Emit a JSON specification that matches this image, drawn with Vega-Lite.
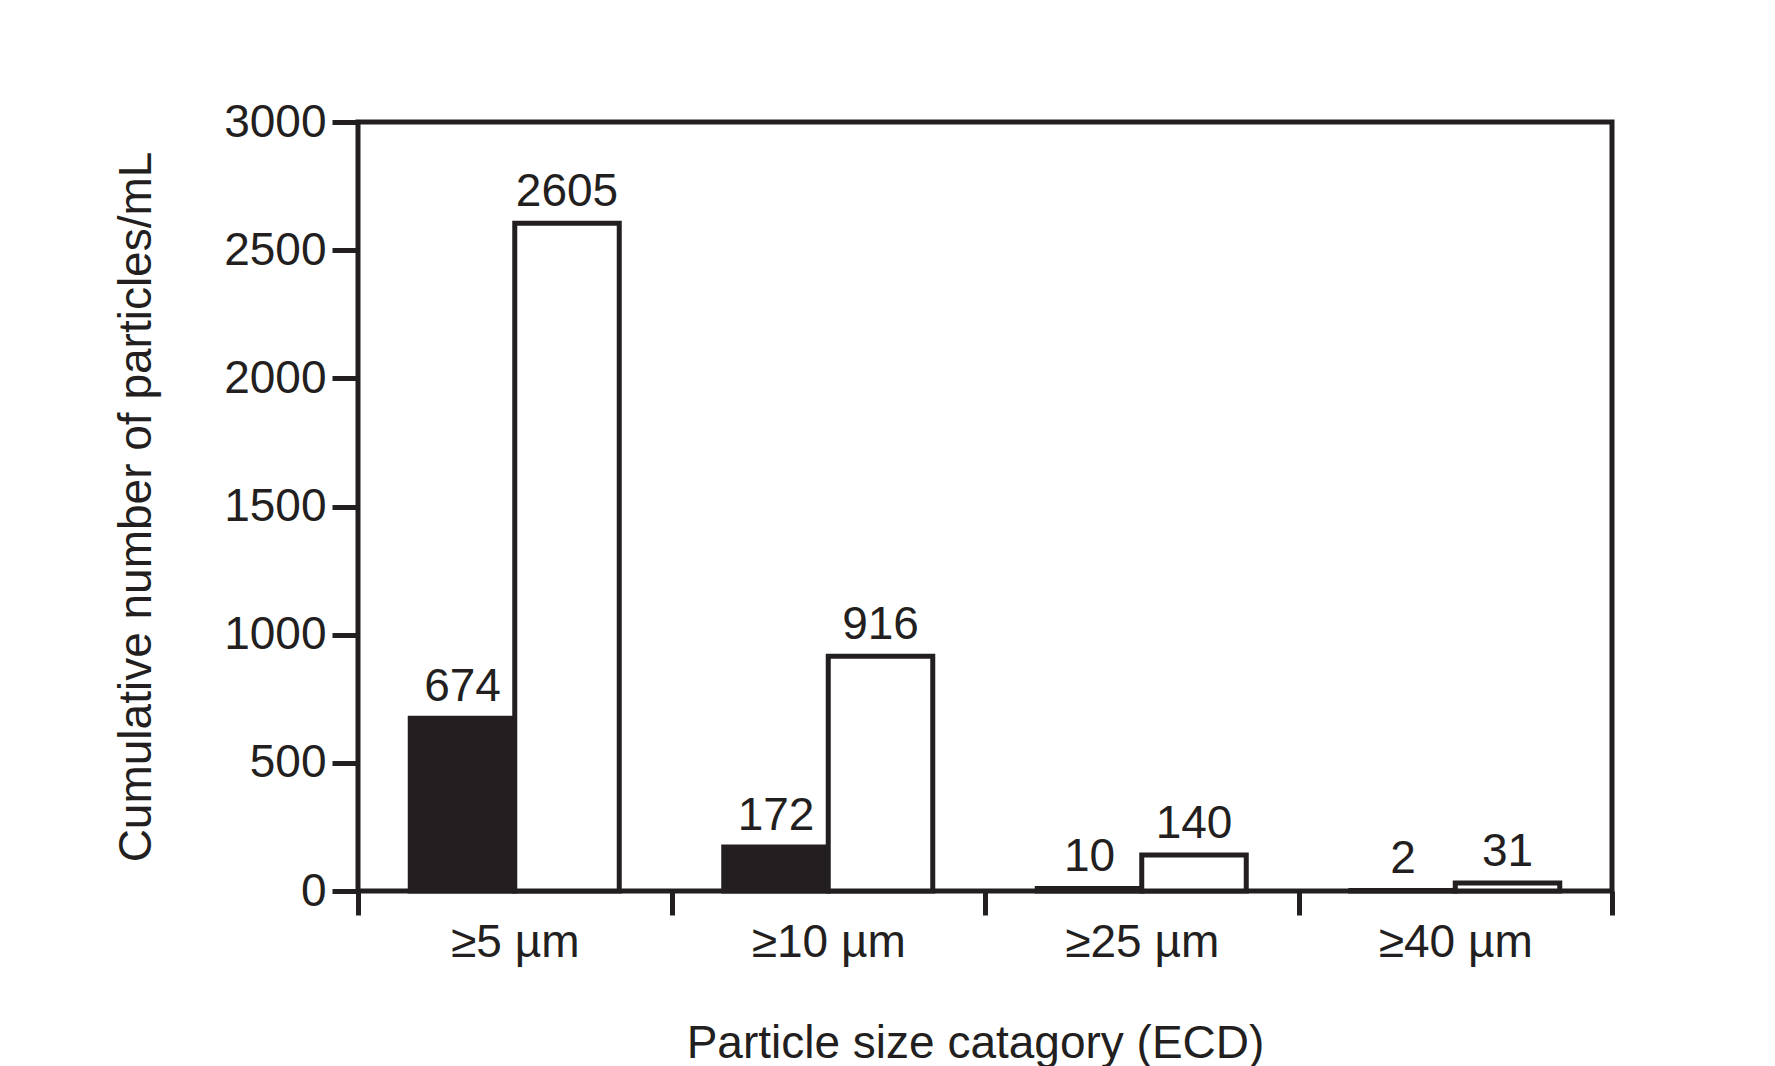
{
  "$schema": "https://vega.github.io/schema/vega-lite/v6.json",
  "width": 1254,
  "height": 769,
  "autosize": {"type": "none"},
  "padding": {"left": 358, "top": 122, "right": 163, "bottom": 175},
  "background": "white",
  "config": {
    "font": "Liberation Sans",
    "view": {"stroke": "#231f20", "strokeWidth": 5},
    "axis": {
      "grid": false,
      "domain": false,
      "tickColor": "#231f20",
      "tickWidth": 5,
      "labelColor": "#231f20",
      "titleColor": "#231f20",
      "labelFont": "Liberation Sans",
      "titleFont": "Liberation Sans",
      "labelFontSize": 46,
      "titleFontSize": 46,
      "titleFontWeight": "normal"
    }
  },
  "data": {
    "values": [
      {"size": "≥5 µm", "group": "A", "value": 674},
      {"size": "≥5 µm", "group": "B", "value": 2605},
      {"size": "≥10 µm", "group": "A", "value": 172},
      {"size": "≥10 µm", "group": "B", "value": 916},
      {"size": "≥25 µm", "group": "A", "value": 10},
      {"size": "≥25 µm", "group": "B", "value": 140},
      {"size": "≥40 µm", "group": "A", "value": 2},
      {"size": "≥40 µm", "group": "B", "value": 31}
    ]
  },
  "encoding": {
    "x": {
      "field": "size",
      "type": "nominal",
      "sort": null,
      "scale": {"paddingInner": 0, "paddingOuter": 0},
      "axis": {
        "tickBand": "extent",
        "tickSize": 24,
        "labelAngle": 0,
        "labelBaseline": "alphabetic",
        "labelPadding": 41,
        "title": "Particle size catagory (ECD)",
        "titleX": 617,
        "titleY": 166,
        "titleBaseline": "alphabetic",
        "titleAlign": "center"
      }
    },
    "xOffset": {
      "field": "group",
      "type": "nominal",
      "scale": {"paddingInner": 0, "paddingOuter": 0.5}
    },
    "y": {
      "field": "value",
      "type": "quantitative",
      "scale": {"domain": [0, 3000], "nice": false},
      "axis": {
        "values": [0, 500, 1000, 1500, 2000, 2500, 3000],
        "format": "d",
        "tickSize": 26,
        "labelPadding": 6,
        "title": "Cumulative number of particles/mL",
        "titleX": -222,
        "titleY": 384.5,
        "titleAngle": -90,
        "titleBaseline": "middle",
        "titleAlign": "center"
      }
    }
  },
  "layer": [
    {
      "mark": {"type": "bar", "stroke": "#231f20", "strokeWidth": 5},
      "encoding": {
        "fill": {
          "field": "group",
          "type": "nominal",
          "scale": {"range": ["#231f20", "#ffffff"]},
          "legend": null
        }
      }
    },
    {
      "mark": {"type": "text", "dy": -17, "baseline": "alphabetic", "fontSize": 46, "color": "#231f20"},
      "encoding": {"text": {"field": "value", "type": "quantitative", "format": "d"}}
    }
  ]
}
